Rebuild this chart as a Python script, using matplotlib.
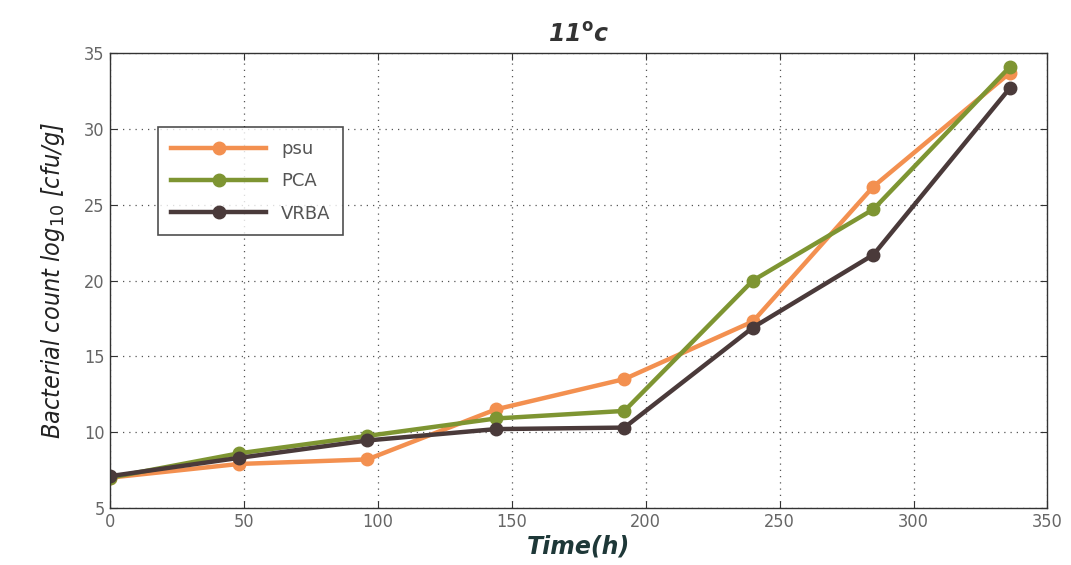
import matplotlib
matplotlib.use("Agg")
import matplotlib.pyplot as plt

time_h = [0, 48, 96, 144, 192, 240, 285, 336]
psu = [7.0, 7.9, 8.2, 11.5, 13.5, 17.3, 26.2, 33.7]
pca = [7.0, 8.6, 9.75, 10.9, 11.4, 20.0, 24.7, 34.1]
vrba = [7.1, 8.3, 9.45, 10.2, 10.3, 16.9, 21.7, 32.7]
series_names = ["psu", "PCA", "VRBA"]
xticks = [0, 50, 100, 150, 200, 250, 300, 350]
yticks = [5, 10, 15, 20, 25, 30, 35]

colors = ["#F39050", "#7E9532", "#4A3A3A"]

fig = plt.figure(figsize=(10.71, 5.65), dpi=100)
ax = fig.add_axes([0.103, 0.101, 0.875, 0.805])

for vals, name, c in zip([psu, pca, vrba], series_names, colors):
    ax.plot(time_h, vals, color=c, lw=3.2, marker="o", ms=9,
            markerfacecolor=c, markeredgecolor=c, label=name)

ax.set_xlim(0, 350)
ax.set_ylim(5, 35)
ax.set_xticks(xticks)
ax.set_yticks(yticks)
ax.grid(True, linestyle=(0, (1, 4)), color="#555555", lw=0.9)
for s in ax.spines.values():
    s.set_color("#333333")
    s.set_linewidth(1.0)
ax.tick_params(direction="in", length=5, colors="#333333", labelcolor="#666666",
               labelsize=13, pad=4, top=True, right=True)
for lab in ax.get_xticklabels() + ax.get_yticklabels():
    lab.set_fontstretch("condensed")

ax.set_title("11$^{\\mathbf{o}}$c", fontsize=17, fontweight="bold", fontstyle="italic",
             color="#333333", pad=8)
ax.set_xlabel("Time(h)", fontsize=17, fontweight="bold", fontstyle="italic",
              color="#1E3838", labelpad=2)
ax.set_ylabel("Bacterial count log$_{10}$ [cfu/g]", fontsize=18, fontstyle="italic",
              fontstretch="condensed", color="#222222", labelpad=12)

leg = ax.legend(loc="upper left", bbox_to_anchor=(0.051, 0.837), frameon=True,
                fancybox=False, edgecolor="#222222", fontsize=13, handlelength=5.3,
                borderpad=0.7, labelspacing=0.8, borderaxespad=0)
leg.get_frame().set_linewidth(1.2)
for t in leg.get_texts():
    t.set_color("#555555")

fig.savefig("out.png", dpi=100)
